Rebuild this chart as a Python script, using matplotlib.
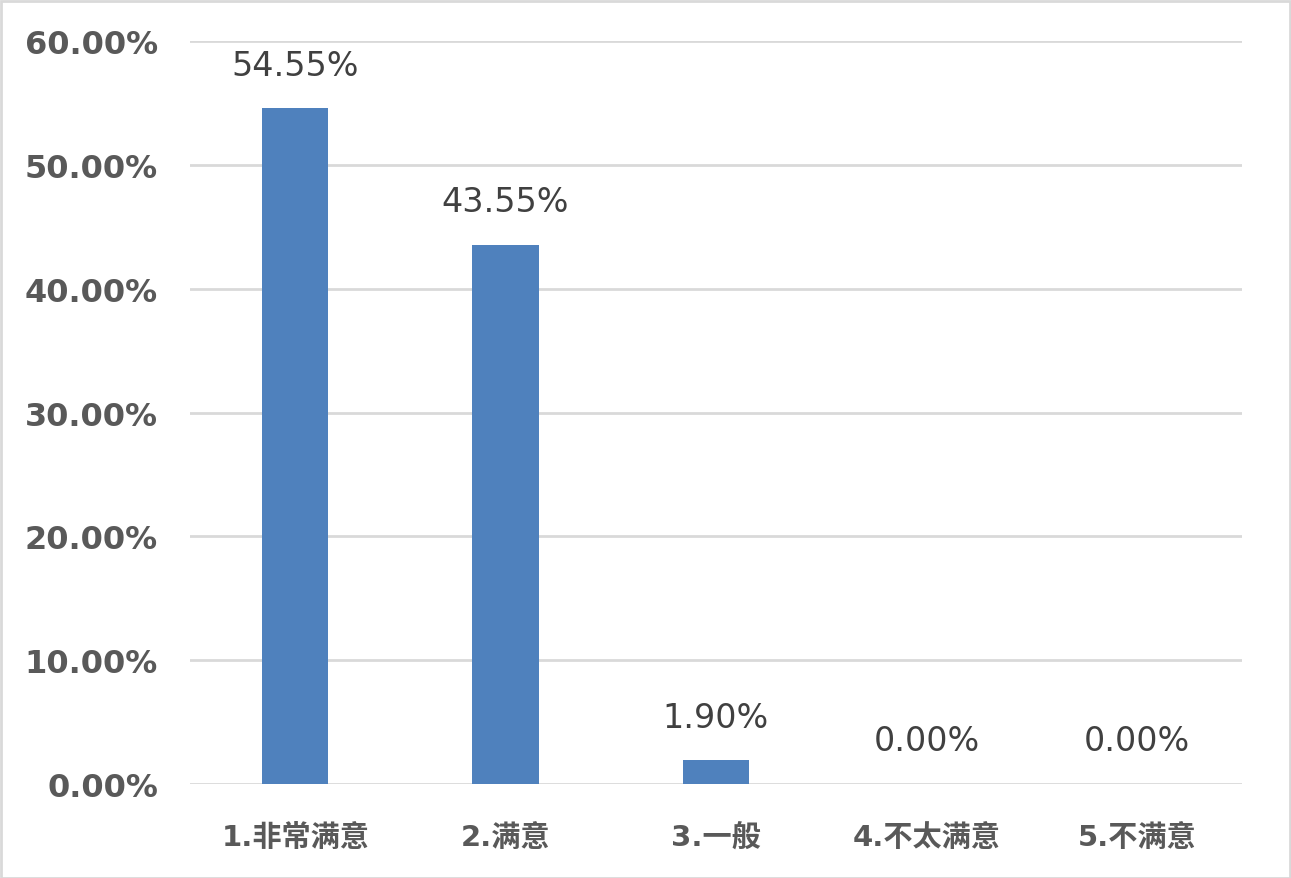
import matplotlib
matplotlib.use("Agg")
import matplotlib.pyplot as plt
from matplotlib.patches import Rectangle

categories = ["1.非常满意", "2.满意", "3.一般", "4.不太满意", "5.不满意"]
values = [54.55, 43.55, 1.90, 0.00, 0.00]
yticks = [0, 10, 20, 30, 40, 50, 60]

plt.rcParams['font.family'] = ['DejaVu Sans', 'Noto Sans CJK SC']

W, H = 1291, 879
fig = plt.figure(figsize=(W/100, H/100), dpi=100)
ax = fig.add_axes([190/W, 1-785/H, (1242-190)/W, (785-42)/H])

x = list(range(len(categories)))
ax.bar(x, values, width=0.315, color="#4f81bd", zorder=3)
ax.set_xlim(-0.5, len(categories)-0.5)
ax.set_ylim(0, 60)
ax.set_yticks(yticks)
ax.set_yticklabels([f"{v:.2f}%" for v in yticks])
ax.set_xticks(x)
ax.set_xticklabels(categories)
for s in ax.spines.values():
    s.set_visible(False)
ax.grid(axis='y', color='#d9d9d9', linewidth=2, zorder=0)
ax.tick_params(length=0)
ax.tick_params(axis='y', pad=23, labelsize=23, labelcolor='#595959')
ax.tick_params(axis='x', pad=28, labelsize=21, labelcolor='#595959')
for lab in ax.get_yticklabels() + ax.get_xticklabels():
    lab.set_fontweight('bold')
    lab.set_family(['DejaVu Sans', 'Noto Sans CJK SC'])

for xi, v in zip(x, values):
    ax.annotate(f"{v:.2f}%", (xi, v), xytext=(0, 31), textcoords='offset points',
                ha='center', va='center', fontsize=24, color='#404040')

fig.patches.append(Rectangle((0.5/W, 0.5/H), 1-2/W, 1-2/H, transform=fig.transFigure,
                             fill=False, edgecolor='#d9d9d9', linewidth=2))
fig.savefig("out.png", dpi=100)
